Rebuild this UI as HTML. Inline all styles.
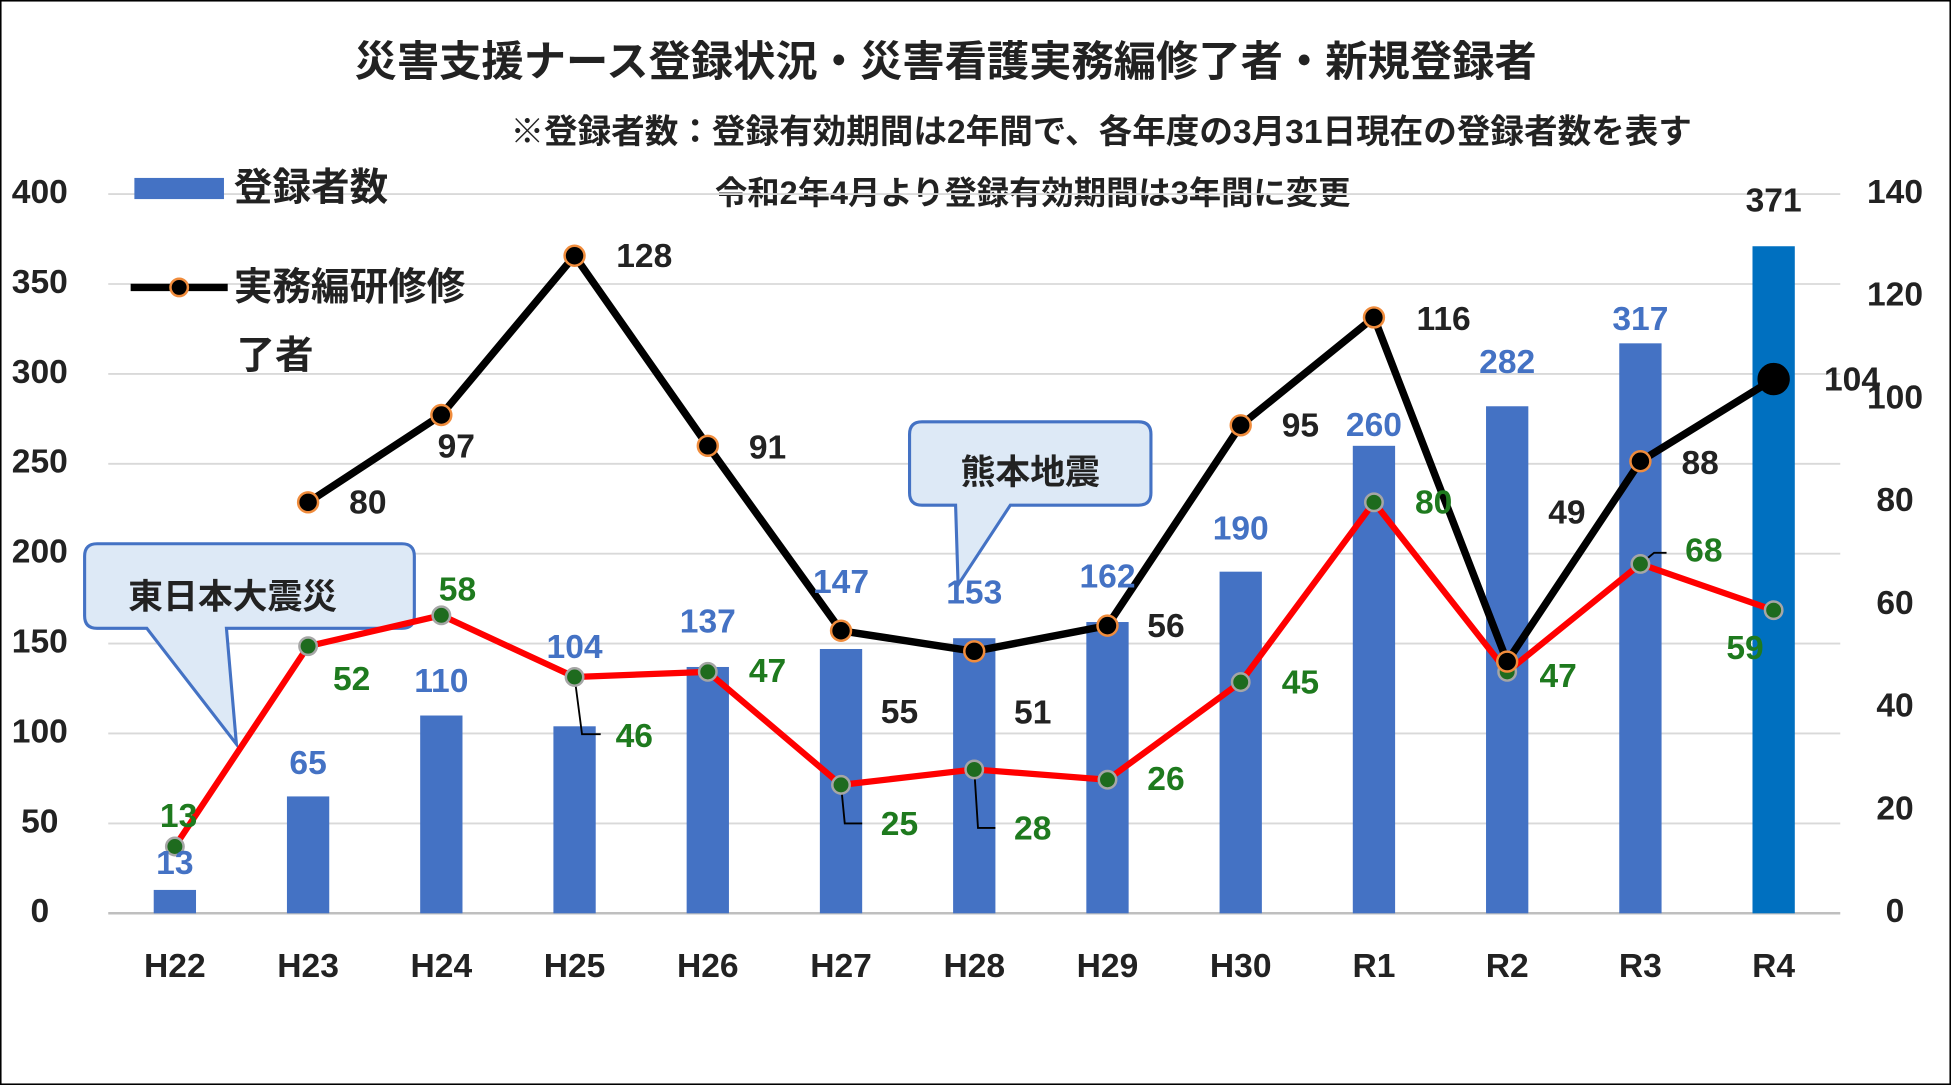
<!DOCTYPE html>
<html><head><meta charset="utf-8">
<style>
html,body{margin:0;padding:0;background:#fff;}
svg{display:block;}
text{font-family:"Liberation Sans","Noto Sans CJK JP",sans-serif;font-weight:bold;}
</style></head>
<body>
<svg id="chart" width="1951" height="1085" viewBox="0 0 1568 872" preserveAspectRatio="none" xmlns="http://www.w3.org/2000/svg">
<rect x="0.5" y="0.5" width="1567" height="871" fill="#fff" stroke="#000" stroke-width="1.5"/>
<text x="760" y="61" font-size="34" text-anchor="middle" fill="#222">災害支援ナース登録状況・災害看護実務編修了者・新規登録者</text>
<text x="885" y="115" font-size="27" text-anchor="middle" fill="#222">※登録者数：登録有効期間は2年間で、各年度の3月31日現在の登録者数を表す</text>
<text x="830" y="164" font-size="26" text-anchor="middle" fill="#222">令和2年4月より登録有効期間は3年間に変更</text>
<g id="grid"></g>
<g id="axes"></g>
<g id="bars"></g>
<g id="callouts">
 <path d="M78,437 H323 Q333,437 333,447 V495 Q333,505 323,505 H182 L190,598 L118,505 H78 Q68,505 68,495 V447 Q68,437 78,437 Z" fill="#dde9f6" stroke="#4472c4" stroke-width="2.5"/>
 <text x="187" y="489" font-size="28" text-anchor="middle" fill="#222">東日本大震災</text>
 <path d="M741,339 H915 Q925,339 925,349 V396 Q925,406 915,406 H812 L770,470 L768,406 H741 Q731,406 731,396 V349 Q731,339 741,339 Z" fill="#dde9f6" stroke="#4472c4" stroke-width="2.5"/>
 <text x="828" y="389" font-size="28" text-anchor="middle" fill="#222">熊本地震</text>
</g>
<g id="lines"></g>
<g id="labels"></g>
<g>
 <rect x="108" y="143" width="72" height="17" fill="#4472c4"/>
 <text x="188" y="161" font-size="31" fill="#222">登録者数</text>
 <line x1="105" y1="231" x2="183" y2="231" stroke="#000" stroke-width="6"/>
 <circle cx="144" cy="231" r="7" fill="#000" stroke="#f08c3c" stroke-width="2"/>
 <text x="188" y="241" font-size="31" fill="#222">実務編研修修</text>
 <text x="190" y="296" font-size="31" fill="#222">了者</text>
</g>
</svg>
<script>
const categories=["H22","H23","H24","H25","H26","H27","H28","H29","H30","R1","R2","R3","R4"];
const registrants=[13,65,110,104,137,147,153,162,190,260,282,317,371];
const completers=[null,80,97,128,91,55,51,56,95,116,49,88,104];
const newRegistrants=[13,52,58,46,47,25,28,26,45,80,47,68,59];
const leftTicks=[0,50,100,150,200,250,300,350,400];
const rightTicks=[0,20,40,60,80,100,120,140];

const NS="http://www.w3.org/2000/svg";
const X0=87,X1=1479,Y0=734,Y1=156;
const bw=(X1-X0)/categories.length;
const xPos=i=>X0+bw*(i+0.5);
const yL=v=>Y0-(v/400)*(Y0-Y1);
const yR=v=>Y0-(v/140)*(Y0-Y1);
function mk(tag,attrs,parent,txt){const e=document.createElementNS(NS,tag);for(const k in attrs)e.setAttribute(k,attrs[k]);if(txt!==undefined)e.textContent=txt;parent.appendChild(e);return e;}
const grid=document.getElementById('grid'),axes=document.getElementById('axes'),bars=document.getElementById('bars'),lines=document.getElementById('lines'),labels=document.getElementById('labels');

leftTicks.forEach(t=>{
 const l=mk('line',{x1:X0,x2:X1,y1:yL(t),y2:yL(t),stroke:t===0?'#bfbfbf':'#d9d9d9','stroke-width':t===0?2:1.5},grid);
 
 
 const tx=mk('text',{x:32,y:yL(t),'font-size':27,'text-anchor':'middle','dominant-baseline':'middle',fill:'#222'},axes,String(t));
 
 
});
rightTicks.forEach(t=>{
 const tx=mk('text',{x:1523,y:yR(t),'font-size':27,'text-anchor':'middle','dominant-baseline':'middle',fill:'#222'},axes,String(t));
 
 
});
categories.forEach((c,i)=>{
 const tx=mk('text',{x:xPos(i),y:778,'font-size':27,'text-anchor':'middle','dominant-baseline':'middle',fill:'#222'},axes,c);
 
 
});
const barLblOff=[-20,-25,-26,-62,-35,-52,-35,-35,-33,-15,-34,-18,-35];
registrants.forEach((v,i)=>{
 const last=i===registrants.length-1;
 const r=mk('rect',{x:xPos(i)-17,y:yL(v),width:34,height:Y0-yL(v),fill:last?'#0070c0':'#4472c4'},bars);
 
 
 const tx=mk('text',{x:xPos(i),y:yL(v)+barLblOff[i],'font-size':27,'text-anchor':'middle','dominant-baseline':'middle',fill:last?'#222':'#4472c4'},labels,String(v));
 
 
});
const leaders=[[3,[[0,0],[6,46],[21,46]]],[5,[[0,0],[3,31],[17,31]]],[6,[[0,0],[3,47],[17,47]]],[11,[[0,0],[11,-9],[21,-9]]]];
leaders.forEach(([i,pts])=>{
 const px=xPos(i),py=yR(newRegistrants[i]);
 const p=mk('polyline',{points:pts.map(q=>(px+q[0])+','+(py+q[1])).join(' '),fill:'none',stroke:'#000','stroke-width':1.5},lines);
 
 
});
const rp=newRegistrants.map((v,i)=>xPos(i)+','+yR(v)).join(' ');
const rl=mk('polyline',{points:rp,fill:'none',stroke:'#ff0000','stroke-width':5,'stroke-linejoin':'round'},lines);


const bp=completers.map((v,i)=>v===null?null:xPos(i)+','+yR(v)).filter(p=>p).join(' ');
const bl=mk('polyline',{points:bp,fill:'none',stroke:'#000','stroke-width':6,'stroke-linejoin':'round'},lines);


newRegistrants.forEach((v,i)=>{
 const c=mk('circle',{cx:xPos(i),cy:yR(v),r:7,fill:'#1e6b1e',stroke:'#a6a6a6','stroke-width':2},lines);
 
 
});
completers.forEach((v,i)=>{
 if(v===null)return;
 const last=i===completers.length-1;
 const c=mk('circle',{cx:xPos(i),cy:yR(v),r:last?12:8,fill:'#000',stroke:last?'#000':'#f08c3c','stroke-width':2},lines);
 
 
});
const bOff=[null,[48,2],[12,27],[56,2],[48,3],[47,67],[47,51],[47,2],[48,2],[56,3],[48,-118],[48,3],[63,2]];
completers.forEach((v,i)=>{
 if(v===null)return;
 const tx=mk('text',{x:xPos(i)+bOff[i][0],y:yR(v)+bOff[i][1],'font-size':27,'text-anchor':'middle','dominant-baseline':'middle',fill:'#222'},labels,String(v));
 
 
});
const gOff=[[3,-23],[35,28],[13,-19],[48,49],[48,1],[47,33],[47,49],[47,1],[48,2],[48,2],[41,5],[51,-9],[-23,32]];
newRegistrants.forEach((v,i)=>{
 const tx=mk('text',{x:xPos(i)+gOff[i][0],y:yR(v)+gOff[i][1],'font-size':27,'text-anchor':'middle','dominant-baseline':'middle',fill:'#1e7a1e'},labels,String(v));
 
 
});
</script>
</body></html>
